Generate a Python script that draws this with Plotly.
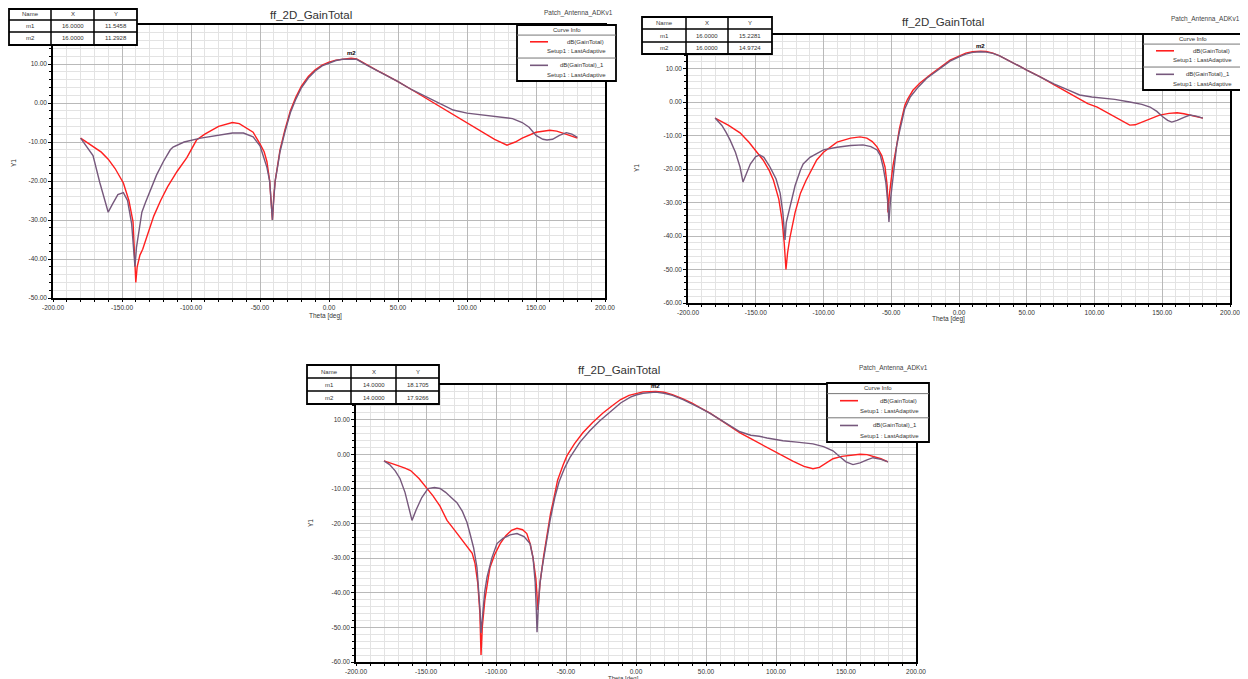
import plotly.graph_objects as go

# The page body has an 8px margin, so the figure is drawn 8px in from the top-left
# corner of the window; size it to the visible area and place items accordingly.
WIN_W, WIN_H = 1248, 679
OFF = 8
W, H = WIN_W - OFF, WIN_H - OFF

# ---------------- data (theta [deg], dB) ----------------
P1_RED = [(-180,-9),(-175,-10.2),(-170,-11.4),(-165,-12.6),(-160,-14.4),(-155,-16.8),(-149,-20.5),(-145,-25),
          (-142,-30.5),(-140.5,-40),(-140,-46),(-139,-42),(-137,-39),(-135,-37.5),(-131,-33),(-127,-29),
          (-122,-25),(-117,-21.5),(-110,-17.5),(-103,-14),(-96,-9.5),(-90,-8),(-80,-6),(-70,-5),(-65,-5.3),
          (-60,-6.3),(-55,-7.5),(-50,-10.5),(-47,-12.5),(-45,-15),(-43,-20),(-42,-25),(-41,-30),(-40,-24),
          (-39,-20),(-37,-15.5),(-35.5,-12),(-32,-7),(-28,-2),(-24,1.5),(-20,4.3),(-15,6.8),(-10,8.5),
          (-5,9.7),(0,10.5),(5,11),(10,11.3),(16,11.5),(20,11.3),(27,9.8),(35,8.3),(40,7.4),(45,6.5),
          (50,5.5),(60,3.4),(70,1.3),(80,-0.8),(90,-3),(100,-5),(110,-7.2),(120,-9.3),(129,-10.8),
          (135,-10),(140,-9),(150,-7.5),(160,-7),(165,-7.2),(170,-7.8),(175,-8.5),(180,-9)]
P1_PUR = [(-180,-9),(-177,-10.5),(-174,-12),(-171,-13.5),(-166,-20.5),(-162,-25.5),(-160,-28),(-157,-26),
          (-153,-23.5),(-149,-23),(-146,-25),(-143,-31),(-141.5,-37),(-140.6,-42),(-139.5,-37),(-138,-33),
          (-135.6,-28),(-133,-25.5),(-130,-23),(-125,-18.5),(-120,-15),(-115,-12),(-113,-11.3),(-105,-10),
          (-93,-9),(-80,-8.3),(-70,-7.7),(-62,-7.7),(-55,-8.7),(-50,-11),(-47,-14),(-45,-16.5),(-43,-20),
          (-42,-25),(-41,-30),(-40,-24.5),(-39,-20),(-37,-15.8),(-35.5,-12.5),(-32,-7.5),(-28,-2.5),
          (-24,1),(-20,3.9),(-15,6.4),(-10,8.2),(-5,9.5),(0,10.3),(5,10.9),(10,11.2),(16,11.3),(20,11.2),
          (27,9.8),(35,8.3),(40,7.4),(45,6.5),(50,5.5),(60,3.4),(71,1.5),(80,-0.2),(85,-1),(90,-1.8),
          (100,-2.6),(110,-3),(114,-3.1),(120,-3.3),(130,-3.8),(133,-4),(140,-5),(145,-6.2),(150,-8.3),
          (155,-9.3),(158,-9.5),(162,-9.3),(167,-8.3),(172,-7.6),(176,-8),(180,-8.8)]

P2_RED = [(-180,-4.8),(-175,-5.8),(-170,-7),(-165,-8.3),(-161.6,-9.2),(-155,-12),(-149,-15),(-144.6,-17.3),
          (-140,-20.5),(-137,-23.3),(-133,-29),(-130.6,-35.2),(-129,-42),(-127.7,-50),(-126.5,-45),
          (-124.7,-40.3),(-121,-33),(-117,-27.2),(-113,-23.5),(-110,-21),(-105,-17.3),(-100,-15),
          (-95,-13.4),(-90,-12),(-80,-10.8),(-73,-10.4),(-68,-10.8),(-64,-11.8),(-60.5,-13.4),(-57,-16),
          (-54.6,-19.4),(-53,-25),(-52.4,-33),(-51.5,-28),(-50,-23),(-48.7,-19),(-46,-13),(-44,-8),
          (-40,-1),(-38,0.8),(-34,3.5),(-28.8,5.7),(-21,8.2),(-16,9.8),(-10,11.5),(-6.6,12.5),(0,13.8),
          (5,14.6),(10,15),(16,15.2),(20,15.1),(25,14.6),(30,13.8),(35,12.8),(40,11.8),(45,10.6),
          (50,9.5),(55,8.5),(60,7.5),(70,5.2),(77,3.6),(85,1.8),(95,-0.5),(102,-1.5),(110,-3.3),
          (118,-5.3),(126,-6.9),(130,-6.8),(135,-6),(140,-5),(148,-3.9),(155,-3.4),(161,-3.2),
          (166,-3.5),(171,-4),(175,-4.3),(180,-4.8)]
P2_PUR = [(-180,-4.8),(-175,-7),(-172,-9),(-169,-11.3),(-165,-15),(-161.6,-19.4),(-159.4,-23.9),
          (-157,-21.5),(-154,-18.5),(-150,-16.3),(-147,-15.8),(-144,-16.5),(-139.5,-19.4),(-135,-23),
          (-132,-27.2),(-130,-33),(-128.4,-41.2),(-127.5,-36),(-126,-33.5),(-124.7,-31.3),(-121,-25),
          (-117,-20.3),(-115,-18.5),(-110,-16.5),(-100,-14.3),(-90,-13.5),(-80,-13),(-70.8,-12.8),
          (-65,-13.3),(-60.5,-14.3),(-58,-16),(-56,-19.4),(-54,-24),(-52.5,-30),(-51.7,-35.8),
          (-50.5,-29),(-49,-23),(-47.5,-17),(-46,-13),(-44,-9),(-40,-2),(-36,1.5),(-30,4.5),(-24,7),
          (-18,8.8),(-12,10.8),(-6.6,12.2),(0,13.5),(5,14.3),(10,14.8),(16,15),(20,14.9),(25,14.5),
          (30,13.8),(35,12.8),(40,11.8),(45,10.6),(50,9.5),(55,8.5),(60,7.5),(70,5.4),(80,3.7),
          (89,2.1),(98,1.5),(106,1.2),(115,0.8),(126,0),(135,-0.7),(141,-1.5),(146,-2.8),(150.6,-4.5),
          (154,-5.5),(157,-6),(161,-5.5),(166,-4.6),(170.5,-3.9),(175,-4.2),(180,-4.8)]

P3_RED = [(-180,-1.9),(-175,-2.5),(-170,-3.3),(-165,-4),(-161,-4.7),(-155,-7),(-149,-9.9),(-145,-12),
          (-140,-15),(-135,-19.1),(-130,-21.7),(-125.7,-24),(-121,-26.3),(-117,-28.6),(-115,-31.5),
          (-113,-37.3),(-111.5,-46),(-110.7,-58),(-109.8,-50),(-108,-42.2),(-106,-37),(-104.3,-32.7),
          (-101,-29),(-97,-25.8),(-93,-23.5),(-89,-22),(-85,-21.4),(-81,-21.8),(-78,-22.9),(-75.5,-26),
          (-73.6,-29.8),(-71.5,-36),(-70,-45),(-69,-41),(-68.6,-37.3),(-66,-29.5),(-63.6,-22.9),
          (-61,-17),(-59,-13.4),(-56,-7.5),(-52,-3),(-49.3,-0.4),(-44,3),(-38,6.2),(-31,9.2),
          (-23.6,11.9),(-17,14),(-11,15.8),(-5,17),(0,17.6),(5,18),(10,18.1),(14,18.17),(20,17.9),
          (26,17.2),(33.6,16),(40,14.8),(46,13.4),(52.9,11.9),(60,10),(67,8.2),(74.3,6.2),(82,4.5),
          (90,2.7),(97.9,1),(105,-0.5),(112,-2),(120,-3.5),(126.4,-4.2),(131,-3.8),(136,-2.6),
          (140.7,-1.3),(147,-0.6),(154,-0.2),(160,0),(165,-0.1),(170,-0.6),(175,-1.3),(180,-2.2)]
P3_PUR = [(-180,-1.9),(-176,-3),(-172,-4.8),(-168.6,-7),(-165,-11),(-162,-15.5),(-160,-19.1),(-157,-16),
          (-153,-12.5),(-148.6,-9.9),(-144,-9.6),(-140,-9.9),(-136,-11),(-132,-12.5),(-127.9,-14),
          (-124,-16.5),(-120.7,-19.7),(-118.6,-22.9),(-116,-27),(-113.6,-32.7),(-112.3,-39),
          (-111.4,-45),(-110.7,-51.6),(-109.5,-45),(-108,-39.5),(-106.4,-35.5),(-103,-30),(-99.3,-25.8),
          (-95,-24.3),(-90,-23.3),(-85,-22.9),(-80,-23.8),(-75.7,-25.8),(-73.5,-30),(-72,-37),
          (-71.2,-45),(-70.7,-51.4),(-69.5,-42),(-68.5,-37),(-67,-32.7),(-64,-25),(-61.4,-19.1),
          (-58,-12.5),(-55,-8),(-51,-4),(-47,-0.8),(-40,3.5),(-33,6.8),(-26,9.6),(-18,12.5),(-11,14.8),
          (-4,16.5),(0,17.1),(5,17.6),(10,17.9),(14,17.93),(20,17.6),(26,17),(33.6,15.8),(40,14.6),
          (46,13.3),(52.9,11.8),(60,10),(67,8.3),(74.3,6.5),(82,5.5),(88,5.2),(93.6,4.7),(100,4.2),
          (105,3.9),(115,3.5),(126.4,3),(134,2.2),(140.7,1),(145,-0.5),(150,-2.2),(155,-3),(160,-2.5),
          (165,-1.6),(169.3,-1),(175,-1.5),(180,-2.2)]

P1_MARKERS = [("m1", "16.0000", "11.5458"), ("m2", "16.0000", "11.2928")]
P2_MARKERS = [("m1", "16.0000", "15.2281"), ("m2", "16.0000", "14.9724")]
P3_MARKERS = [("m1", "14.0000", "18.1705"), ("m2", "14.0000", "17.9266")]
PEAKS = [(16, 11.5), (16, 15.2), (14, 18.17)]

X_TICKS = [-200, -150, -100, -50, 0, 50, 100, 150, 200]
TITLE = "ff_2D_GainTotal"
PROJECT = "Patch_Antenna_ADKv1"
LEGEND_NAMES = ["dB(GainTotal)", "dB(GainTotal)_1"]
SETUP = "Setup1 : LastAdaptive"

RED = "#ff1f1f"
PURPLE = "#76587c"
FONT = "Liberation Sans"

# ---------------- layout geometry (window pixels) ----------------
panels = [
    dict(red=P1_RED, pur=P1_PUR, xd=(53, 605), yd=(25, 298), yr=(-50, 20),
         table=(9, 51, 94, 137, 9, 20, 32, 45), markers=P1_MARKERS,
         legend=(517, 616, 25, 81), title=(311, 15), patch=(615, 13),
         ytitle=(13, 163), xtitle=(307, 316), xtsize=6.5),
    dict(red=P2_RED, pur=P2_PUR, xd=(688, 1230), yd=(35, 303), yr=(-60, 20),
         table=(642, 686, 728, 772, 17, 29, 42, 54), markers=P2_MARKERS,
         legend=(1143, 1242, 34, 90), title=(943, 22), patch=(1242, 19),
         ytitle=(637, 168), xtitle=(930, 319), xtsize=6.5),
    dict(red=P3_RED, pur=P3_PUR, xd=(356, 916), yd=(385, 662), yr=(-60, 20),
         table=(307, 351, 396, 439, 365, 378, 391, 404), markers=P3_MARKERS,
         legend=(827, 929, 383, 442), title=(619, 370), patch=(930, 368),
         ytitle=(310, 523), xtitle=(606, 678), xtsize=6),
]


def fx(px):
    return (px - OFF) / W


def fy(py):
    return 1 - (py - OFF) / H


fig = go.Figure()
shapes = []
annotations = []
layout = {}

for i, p in enumerate(panels, start=1):
    xa = "x" if i == 1 else f"x{i}"
    ya = "y" if i == 1 else f"y{i}"
    xkey = "xaxis" if i == 1 else f"xaxis{i}"
    ykey = "yaxis" if i == 1 else f"yaxis{i}"

    for data, col, nm in ((p["red"], RED, LEGEND_NAMES[0]), (p["pur"], PURPLE, LEGEND_NAMES[1])):
        fig.add_trace(go.Scatter(x=[d[0] for d in data], y=[d[1] for d in data], mode="lines",
                                 line=dict(color=col, width=1.4), name=nm, showlegend=False,
                                 xaxis=xa, yaxis=ya))

    y0, y1 = p["yr"]
    yticks = list(range(y0, y1, 10))
    axis_common = dict(showline=True, mirror=True, linecolor="black", linewidth=1.5,
                       ticks="outside", tickcolor="black", tickwidth=1,
                       showgrid=True, gridcolor="#b9b9b9", gridwidth=1, zeroline=False,
                       automargin=False,
                       tickfont=dict(family=FONT, size=6.5, color="#333"))
    layout[xkey] = dict(axis_common, domain=[fx(p["xd"][0]), fx(p["xd"][1])], range=[-200, 200],
                        anchor=ya, tickvals=X_TICKS, ticktext=[f"{v:.2f}" for v in X_TICKS],
                        ticklen=2,
                        minor=dict(dtick=10, tick0=0, showgrid=True, gridcolor="#e3e3e3",
                                   ticks="outside", ticklen=2, tickcolor="black"))
    layout[ykey] = dict(axis_common, domain=[fy(p["yd"][1]), fy(p["yd"][0])], range=[y0, y1],
                        anchor=xa, tickvals=yticks, ticktext=[f"{v:.2f}" for v in yticks],
                        ticklen=3,
                        minor=dict(dtick=2, tick0=0, showgrid=True, gridcolor="#e3e3e3",
                                   ticks="outside", ticklen=2, tickcolor="black"))

    # title / project name / axis titles
    annotations.append(dict(text=TITLE, x=fx(p["title"][0]), y=fy(p["title"][1]), xref="paper",
                            yref="paper", showarrow=False, xanchor="center", yanchor="middle",
                            font=dict(family=FONT, size=11.5, color="#333")))
    annotations.append(dict(text=PROJECT, x=fx(p["patch"][0]), y=fy(p["patch"][1]), xref="paper",
                            yref="paper", showarrow=False, xanchor="right", yanchor="middle",
                            font=dict(family=FONT, size=6.5, color="#444")))
    annotations.append(dict(text="Y1", x=fx(p["ytitle"][0]), y=fy(p["ytitle"][1]), xref="paper",
                            yref="paper", showarrow=False, textangle=-90, xanchor="center",
                            yanchor="middle", font=dict(family=FONT, size=6.5, color="#333")))
    annotations.append(dict(text="Theta [deg]", x=fx(p["xtitle"][0]), y=fy(p["xtitle"][1]),
                            xref="paper", yref="paper", showarrow=False, xanchor="left",
                            yanchor="middle", font=dict(family=FONT, size=p["xtsize"], color="#333")))

    # marker label at peak
    pk = PEAKS[i - 1]
    annotations.append(dict(text="<b>m2</b>", x=pk[0], y=pk[1], xref=xa, yref=ya, showarrow=False,
                            yshift=5, font=dict(family=FONT, size=6, color="black")))

    # marker table
    tx0, tx1, tx2, tx3, ty0, ty1, ty2, ty3 = p["table"]
    shapes.append(dict(type="rect", xref="paper", yref="paper", x0=fx(tx0), x1=fx(tx3),
                       y0=fy(ty3), y1=fy(ty0), line=dict(color="black", width=1.8),
                       fillcolor="white", layer="above"))
    for xv in (tx1, tx2):
        shapes.append(dict(type="line", xref="paper", yref="paper", x0=fx(xv), x1=fx(xv),
                           y0=fy(ty3), y1=fy(ty0), line=dict(color="black", width=1.5), layer="above"))
    for yv in (ty1, ty2):
        shapes.append(dict(type="line", xref="paper", yref="paper", x0=fx(tx0), x1=fx(tx3),
                           y0=fy(yv), y1=fy(yv), line=dict(color="black", width=1.5), layer="above"))
    rows = [("Name", "X", "Y")] + p["markers"]
    rys = [(ty0 + ty1) / 2, (ty1 + ty2) / 2, (ty2 + ty3) / 2]
    cxs = [(tx0 + tx1) / 2, (tx1 + tx2) / 2, (tx2 + tx3) / 2]
    for r, row in enumerate(rows):
        for c, txt in enumerate(row):
            annotations.append(dict(text=txt, x=fx(cxs[c]), y=fy(rys[r]), xref="paper",
                                    yref="paper", showarrow=False, xanchor="center",
                                    yanchor="middle",
                                    font=dict(family=FONT, size=6, color="#333")))

    # curve info box
    lx0, lx1, ly0, ly1 = p["legend"]
    hgt = ly1 - ly0
    shapes.append(dict(type="rect", xref="paper", yref="paper", x0=fx(lx0), x1=fx(lx1),
                       y0=fy(ly1), y1=fy(ly0), line=dict(color="black", width=1.8),
                       fillcolor="white", layer="above"))
    div1 = ly0 + hgt * 0.18
    div2 = ly0 + hgt * 0.59
    for yv in (div1, div2):
        shapes.append(dict(type="line", xref="paper", yref="paper", x0=fx(lx0), x1=fx(lx1),
                           y0=fy(yv), y1=fy(yv), line=dict(color="#777", width=1), layer="above"))
    annotations.append(dict(text="Curve Info", x=fx((lx0 + lx1) / 2), y=fy(ly0 + hgt * 0.09),
                            xref="paper", yref="paper", showarrow=False, xanchor="center",
                            yanchor="middle", font=dict(family=FONT, size=6, color="#333")))
    entry_rows = [(ly0 + hgt * 0.30, ly0 + hgt * 0.47, RED, LEGEND_NAMES[0]),
                  (ly0 + hgt * 0.72, ly0 + hgt * 0.89, PURPLE, LEGEND_NAMES[1])]
    for ey, sy, col, nm in entry_rows:
        shapes.append(dict(type="line", xref="paper", yref="paper", x0=fx(lx0 + 13),
                           x1=fx(lx0 + 31), y0=fy(ey), y1=fy(ey),
                           line=dict(color=col, width=1.6), layer="above"))
        annotations.append(dict(text=nm, x=fx(lx1 - 10), y=fy(ey), xref="paper", yref="paper",
                                showarrow=False, xanchor="right", yanchor="middle",
                                font=dict(family=FONT, size=6, color="#333")))
        annotations.append(dict(text=SETUP, x=fx(lx1 - 8), y=fy(sy), xref="paper", yref="paper",
                                showarrow=False, xanchor="right", yanchor="middle",
                                font=dict(family=FONT, size=6, color="#333")))

fig.update_layout(width=W, height=H, margin=dict(l=0, r=0, t=0, b=0, autoexpand=False),
                  paper_bgcolor="white", plot_bgcolor="white", showlegend=False,
                  shapes=shapes, annotations=annotations, **layout)

fig.write_html("out.html")
